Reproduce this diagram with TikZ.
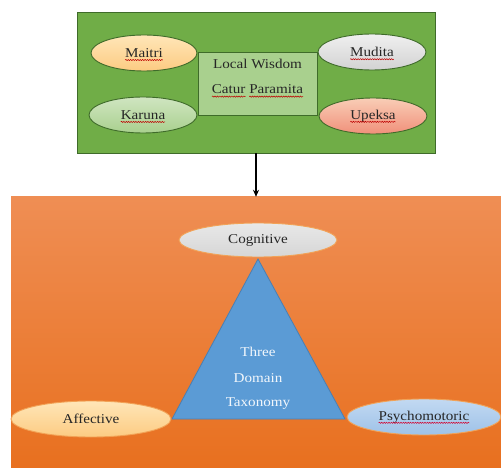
\documentclass[tikz,border=0pt]{standalone}
\usepackage{fontspec}
\setmainfont{Liberation Serif}[FakeStretch=1.12]
\usetikzlibrary{shapes.geometric,arrows.meta,decorations.pathmorphing}
\definecolor{grbg}{HTML}{70AD47}
\definecolor{grdk}{HTML}{3F6B2A}
\definecolor{grlt}{HTML}{A9D08E}
\definecolor{orgtop}{HTML}{EF8E54}
\definecolor{orgbot}{HTML}{E8701F}
\definecolor{tribl}{HTML}{5B9BD5}
\definecolor{tribd}{HTML}{4A7FB3}
\definecolor{txt}{HTML}{262626}
\definecolor{peachtop}{HTML}{FFE6B8}
\definecolor{peachbot}{HTML}{FCCB82}
\definecolor{salmtop}{HTML}{F9CDB6}
\definecolor{salmbot}{HTML}{F0907A}
\definecolor{bluetop}{HTML}{C2D9F2}
\definecolor{bluebot}{HTML}{9EC2E8}
\definecolor{ellbd}{HTML}{F2A256}
\tikzset{
  ell/.style={ellipse, inner sep=0pt, line width=0.9pt},
  lbl/.style={inner sep=0pt, outer sep=0pt, text=txt, font=\fontsize{13.5}{16}\selectfont},
  wlbl/.style={inner sep=0pt, outer sep=0pt, text=white!92!tribl, font=\fontsize{13.5}{16}\selectfont},
  squig/.style={draw=red!75!black, line width=0.5pt, decorate, decoration={snake, amplitude=0.6pt, segment length=2.4pt}},
}
\begin{document}
\begin{tikzpicture}[x=1pt,y=-1pt]
\useasboundingbox (0,0) rectangle (501,468);
% top green panel
\node[draw=grdk, fill=grbg, line width=0.9pt, minimum width=358pt, minimum height=141pt, inner sep=0pt] (green) at (256,82.5) {};
\node[draw=grdk, fill=grlt, line width=0.9pt, minimum width=119pt, minimum height=63pt, inner sep=0pt] (center) at (257.5,83.5) {};
\node[ell, draw=grdk, top color=peachtop, bottom color=peachbot, minimum width=106pt, minimum height=36pt] (maitri) at (144,53) {};
\node[ell, draw=grdk, top color=gray!12, bottom color=gray!35, minimum width=108pt, minimum height=36pt] (mudita) at (372,52) {};
\node[ell, draw=grdk, top color=grlt!55, bottom color=grlt, minimum width=108pt, minimum height=36pt] (karuna) at (143,115) {};
\node[ell, draw=grdk, top color=salmtop, bottom color=salmbot, minimum width=108pt, minimum height=36pt] (upeksa) at (373,116) {};
\node[lbl] (t-maitri) at (144,53) {Maitri};
\node[lbl] (t-mudita) at (372,52) {Mudita};
\node[lbl] (t-karuna) at (143,115) {Karuna};
\node[lbl] (t-upeksa) at (373,116) {Upeksa};
\node[lbl, anchor=base] (t-local) at (257.5,69) {Local Wisdom};
\node[lbl, anchor=base east] (t-catur) at (245.5,94) {Catur};
\node[lbl, anchor=base west] (t-para) at (249.3,94) {Paramita};
\foreach \n in {t-maitri,t-mudita,t-karuna,t-upeksa,t-catur,t-para}
  \draw[squig] ([yshift=-2.6pt]\n.base west) -- ([yshift=-2.6pt]\n.base east);
% bottom orange panel
\node[top color=orgtop, bottom color=orgbot, minimum width=490pt, minimum height=271pt, inner sep=0pt] (orange) at (256,332.5) {};
\draw[-{Stealth[length=7pt,width=6pt]}, line width=1.2pt, black] (green.south) -- (orange.north);
% triangle
\coordinate (apex) at (258,259);
\coordinate (bl) at (172,419);
\coordinate (br) at (345,419);
\draw[fill=tribl, draw=tribd, line width=0.8pt, line join=miter] (apex) -- (bl) -- (br) -- cycle;
\node[wlbl] (t-three) at (258,352) {Three};
\node[wlbl] (t-domain) at (258,378) {Domain};
\node[wlbl] (t-tax) at (258,404) {Taxonomy};
\node[ell, draw=ellbd, top color=gray!18, bottom color=gray!32, minimum width=158pt, minimum height=34pt] (cog) at (258,240) {};
\node[ell, draw=ellbd, top color=peachtop, bottom color=peachbot, minimum width=160pt, minimum height=36pt] (aff) at (91,419) {};
\node[ell, draw=ellbd, top color=bluetop, bottom color=bluebot, minimum width=154pt, minimum height=36pt] (psy) at (424,417) {};
\node[lbl] (t-cog) at (258,240) {Cognitive};
\node[lbl] (t-aff) at (91,419) {Affective};
\node[lbl] (t-psy) at (424,417) {Psychomotoric};
\draw[squig, draw=purple!70!red] ([yshift=-2.6pt]t-psy.base west) -- ([yshift=-2.6pt]t-psy.base east);
\end{tikzpicture}
\end{document}
